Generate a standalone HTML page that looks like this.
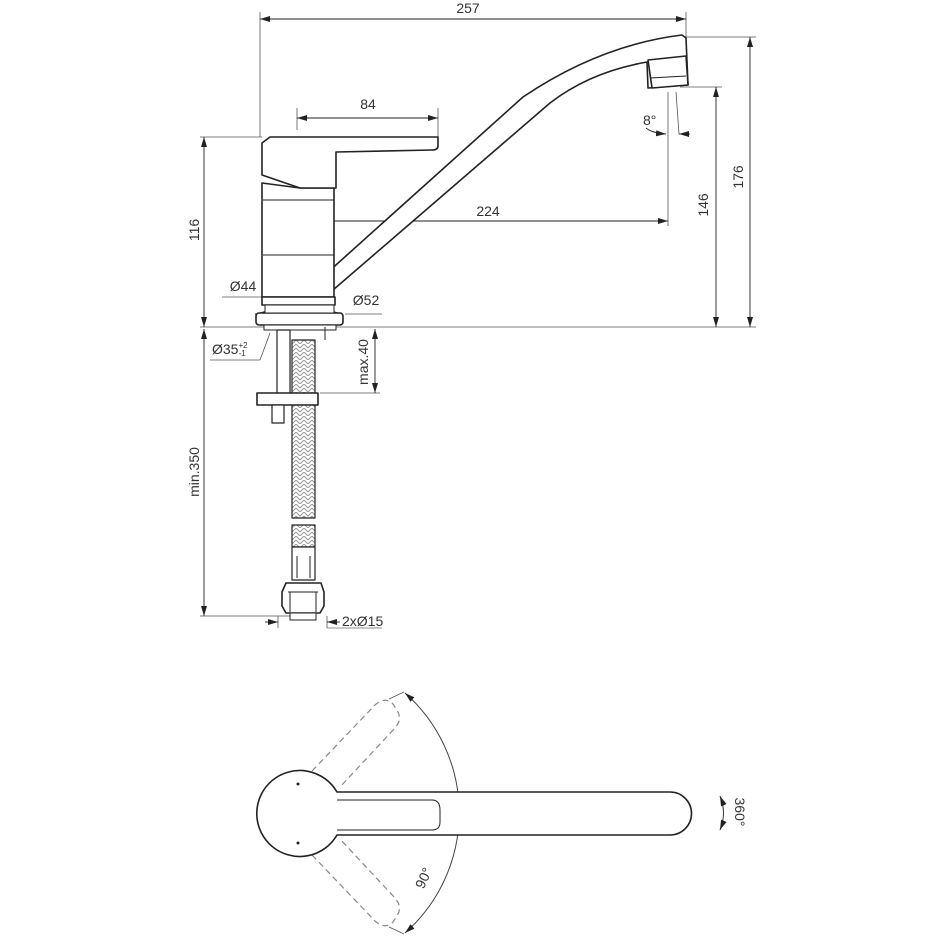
<!DOCTYPE html>
<html><head><meta charset="utf-8"><style>
html,body{margin:0;padding:0;background:#fff;}
svg{display:block}
text{font-family:"Liberation Sans",sans-serif;font-size:14px;fill:#333}
</style></head><body>
<svg width="940" height="940" viewBox="0 0 940 940" xmlns="http://www.w3.org/2000/svg">
<defs>
<marker id="a" viewBox="0 0 10 6" refX="10" refY="3" markerWidth="10" markerHeight="6" orient="auto-start-reverse" markerUnits="userSpaceOnUse"><path d="M0,0L10,3L0,6z" fill="#222"/></marker>
<pattern id="br" width="8" height="8" patternUnits="userSpaceOnUse"><path d="M0,0L4,4L8,0M0,4L4,8L8,4" fill="none" stroke="#999" stroke-width="1"/></pattern>
</defs>
<g stroke="#555" stroke-width="0.8" fill="none">
<line x1="260" y1="12" x2="260" y2="137"/>
<line x1="686" y1="12" x2="686" y2="38"/>
<line x1="686" y1="37" x2="756" y2="37"/>
<line x1="680" y1="87" x2="722" y2="87"/>
<line x1="200" y1="327" x2="756" y2="327"/>
<line x1="200" y1="137" x2="262" y2="137"/>
<line x1="297" y1="108" x2="297" y2="130"/>
<line x1="438" y1="108" x2="438" y2="137"/>
<line x1="668" y1="92" x2="668" y2="226"/>
<line x1="676" y1="92" x2="679" y2="134"/>
<line x1="200" y1="616" x2="290" y2="616"/>
<line x1="320" y1="393" x2="380" y2="393"/>
<line x1="345" y1="314" x2="382" y2="314"/>
<line x1="278" y1="616" x2="278" y2="628"/>
<line x1="327" y1="616" x2="327" y2="628"/>
<line x1="222" y1="297" x2="262" y2="297"/>
<line x1="210" y1="360" x2="260" y2="360"/>
<line x1="260" y1="360" x2="270" y2="333"/>
</g>
<g stroke="#222" stroke-width="0.9" fill="none">
<line x1="260" y1="19" x2="686" y2="19" marker-start="url(#a)" marker-end="url(#a)"/>
<line x1="750" y1="37" x2="750" y2="327" marker-start="url(#a)" marker-end="url(#a)"/>
<line x1="716" y1="87" x2="716" y2="327" marker-start="url(#a)" marker-end="url(#a)"/>
<line x1="204" y1="137" x2="204" y2="327" marker-start="url(#a)" marker-end="url(#a)"/>
<line x1="297" y1="118" x2="438" y2="118" marker-start="url(#a)" marker-end="url(#a)"/>
<line x1="297" y1="221" x2="668" y2="221" marker-start="url(#a)" marker-end="url(#a)"/>
<line x1="262" y1="297" x2="335" y2="297" marker-start="url(#a)" marker-end="url(#a)"/>
<line x1="255" y1="314" x2="343" y2="314" marker-start="url(#a)" marker-end="url(#a)"/>
<line x1="375" y1="329" x2="375" y2="393" marker-start="url(#a)" marker-end="url(#a)"/>
<line x1="204" y1="329" x2="204" y2="616" marker-start="url(#a)" marker-end="url(#a)"/>
<line x1="265" y1="622" x2="278" y2="622" marker-end="url(#a)"/>
<line x1="340" y1="622" x2="327" y2="622" marker-end="url(#a)"/>
<line x1="327" y1="628" x2="382" y2="628" stroke="#666" stroke-width="0.7"/>
<path d="M646,128 Q652,133 666,134" marker-end="url(#a)"/>
<line x1="690" y1="134" x2="679" y2="134" marker-end="url(#a)"/>
</g>
<g stroke="#222" stroke-width="1.6" fill="#fff" stroke-linejoin="round">
<path d="M328,287 L333,290 L550,103 Q590,72 647,62 L648,88 L688,85 L686,38 L682,35 Q600,45 523,97 L327,273 Z"/>
<path d="M648,60 L686,56 L688,85 L652,88 Z"/>
<line x1="650" y1="78" x2="686" y2="76" stroke-width="1"/>
<path d="M262,183 L262,297 L334,297 L334,188 L300,188 Z"/>
<line x1="263" y1="200" x2="334" y2="200" stroke-width="1"/>
<line x1="263" y1="255" x2="334" y2="255" stroke-width="1"/>
<path d="M262,143 L262,175 L300,188 L336,188 L336,152 L432,150 Q438,150 438,146 L438,137 L270,137 Z"/>
<rect x="262" y="297" width="73" height="8"/>
<rect x="256" y="313" width="87" height="12" rx="3"/>
<rect x="265" y="305" width="69" height="8" stroke-width="1"/>
<rect x="264" y="325" width="72" height="5" stroke-width="1"/>
<rect x="277" y="330" width="13" height="65" stroke-width="1.2"/>
<rect x="292" y="340" width="23" height="178" fill="url(#br)" stroke-width="1.2"/>
<rect x="292" y="525" width="23" height="22" fill="url(#br)" stroke-width="1.2"/>
<rect x="292" y="547" width="23" height="33" stroke-width="1.2"/>
<line x1="297" y1="556" x2="297" y2="578" stroke-width="1"/>
<line x1="310" y1="556" x2="310" y2="578" stroke-width="1"/>
<path d="M286,583 L321,583 L324,592 L324,606 L320,613 L286,613 L282,606 L282,592 Z"/>
<line x1="288" y1="592" x2="318" y2="592" stroke-width="1"/>
<line x1="290" y1="592" x2="290" y2="612" stroke-width="1"/>
<line x1="316" y1="592" x2="316" y2="612" stroke-width="1"/>
<rect x="290" y="613" width="26" height="7" stroke-width="1"/>
<path d="M257,393 L318,393 L318,405 L257,405 Z"/>
<rect x="272" y="405" width="12" height="18" stroke-width="1.2"/>
<line x1="325" y1="327" x2="325" y2="340" stroke-width="1"/>
</g>
<g stroke="#888" stroke-width="1.2" fill="none" stroke-dasharray="6,4">
<path d="M312,771 L375,705 Q385,696 393,704 L398,712 Q402,720 395,728 L340,787"/>
<path d="M312,855 L375,921 Q385,930 393,922 L398,914 Q402,906 395,898 L340,839"/>
</g>
<path d="M405,693 A160,160 0 0 1 405,933" stroke="#444" stroke-width="1" fill="none" marker-start="url(#a)" marker-end="url(#a)"/>
<line x1="389" y1="699" x2="404" y2="692" stroke="#555" stroke-width="0.8"/>
<line x1="389" y1="927" x2="404" y2="934" stroke="#555" stroke-width="0.8"/>
<g stroke="#222" stroke-width="1.6" fill="#fff">
<path d="M337,792 L670,792 A21.5,21.5 0 0 1 670,835 L337,835 A43,43 0 1 1 337,792 Z"/>
<path d="M337,800 L432,800 Q440,800 440,810 L440,822 Q440,830 432,830 L337,830" stroke-width="1"/>
</g>
<circle cx="298" cy="784" r="1.5" fill="#222"/>
<circle cx="298" cy="843" r="1.5" fill="#222"/>
<path d="M720,796 Q727,813 720,830" stroke="#333" fill="none" stroke-width="1" marker-start="url(#a)" marker-end="url(#a)"/>
<text x="468" y="13" text-anchor="middle">257</text>
<text x="368" y="109" text-anchor="middle">84</text>
<text x="488" y="216" text-anchor="middle">224</text>
<text x="243" y="291" text-anchor="middle">Ø44</text>
<text x="366" y="305" text-anchor="middle">Ø52</text>
<text x="212" y="354">Ø35<tspan font-size="8" dy="-6">+2</tspan><tspan font-size="8" dx="-9" dy="8">-1</tspan></text>
<text x="342" y="626">2xØ15</text>
<text x="643" y="125" font-size="13">8°</text>
<text transform="translate(199,230) rotate(-90)" text-anchor="middle">116</text>
<text transform="translate(708,205) rotate(-90)" text-anchor="middle">146</text>
<text transform="translate(743,177) rotate(-90)" text-anchor="middle">176</text>
<text transform="translate(368,362) rotate(-90)" text-anchor="middle">max.40</text>
<text transform="translate(199,472) rotate(-90)" text-anchor="middle">min.350</text>
<text transform="translate(428,880) rotate(-65)" text-anchor="middle">90°</text>
<text transform="translate(735,812) rotate(90)" text-anchor="middle">360°</text>
</svg>
</body></html>
